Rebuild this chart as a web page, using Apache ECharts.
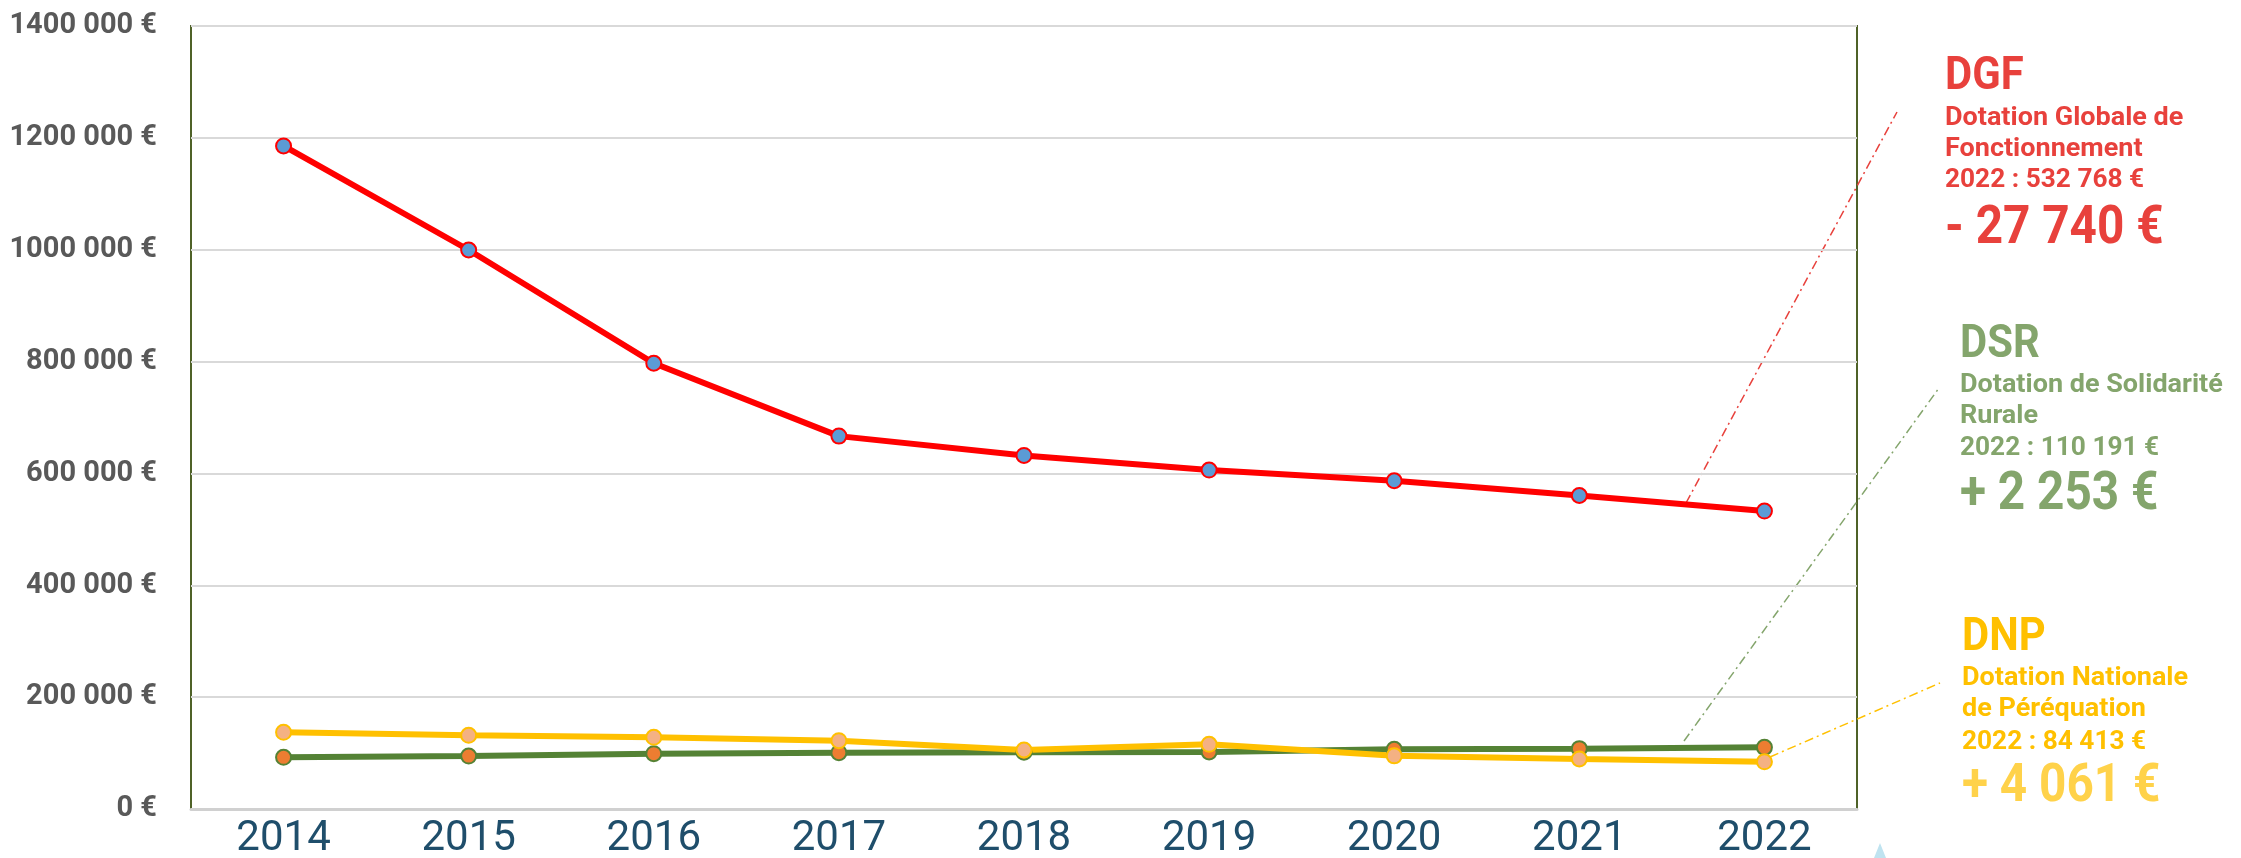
<!DOCTYPE html>
<html>
<head>
<meta charset="utf-8">
<title>Dotations</title>
<script src="https://cdn.jsdelivr.net/npm/echarts@6/dist/echarts.min.js"></script>
<style>
html,body{margin:0;padding:0;background:#fff;}
#main{width:2241px;height:858px;}
</style>
</head>
<body>
<div id="main"></div>
<script>
const years=['2014','2015','2016','2017','2018','2019','2020','2021','2022'];
const dgf=[1185600,999500,797000,666700,632200,606000,586900,560508,532768];
const dsr=[92400,94700,98900,100700,101500,102000,106700,107938,110191];
const dnp=[137100,131700,128200,122100,105500,115600,95000,89400,84413];
const yMin=0, yMax=1400000, yStep=200000;

// annotation blocks on the right
const dgfNote=['DGF','Dotation Globale de','Fonctionnement','2022 : 532 768 €','- 27 740 €'];
const dsrNote=['DSR','Dotation de Solidarité','Rurale','2022 : 110 191 €','+ 2 253 €'];
const dnpNote=['DNP','Dotation Nationale','de Péréquation','2022 : 84 413 €','+ 4 061 €'];

const font="Roboto,'Noto Sans',sans-serif";
const RED='#e8413c', GREEN='#84a56c', YELLOW='#ffc000';

const fmtEuro=(v)=>{
    if(v<1000){ return v+' €'; }
    const k=Math.floor(v/1000), r=v%1000;
    return k+' '+String(r).padStart(3,'0')+' €';
};

// one text block: title, 2 text lines, amount line, big delta
// (scaleX roughly imitates the wider DIN letters / narrower DIN digits)
const noteBlock=(lines, x, ys, color, deltaColor)=>{
    const sizes=[47,25,25,25,53];
    const sx=[0.89,1.08,1.08,1.05,0.9];
    return lines.map((t,i)=>({
        type:'text',
        silent:true,
        x:x, y:ys[i]+3, scaleX:sx[i],
        style:{
            text:t, x:0, y:0,
            fill:(i===4 && deltaColor) ? deltaColor : color,
            fontSize:sizes[i], fontWeight:'bold', fontFamily:font,
            verticalAlign:'middle', align:'left'
        }
    }));
};

const leader=(x1,y1,x2,y2,color)=>({
    type:'line', silent:true,
    shape:{x1,y1,x2,y2},
    style:{stroke:color, lineWidth:1.5, lineDash:[9,4,2,4]}
});

const lineSeries=(name,data,color,fill)=>({
    name, type:'line', data,
    symbol:'circle', symbolSize:15,
    lineStyle:{color, width:6},
    itemStyle:{color:fill, borderColor:color, borderWidth:2},
    emphasis:{disabled:true},
    animation:false
});

const chart=echarts.init(document.getElementById('main'));
chart.setOption({
    backgroundColor:'#fff',
    animation:false,
    grid:{left:191, right:384, top:26, bottom:49, outerBoundsMode:'none', containLabel:false,
          show:true, borderColor:'#4f6228', borderWidth:2, backgroundColor:'transparent'},
    xAxis:{
        type:'category', data:years, boundaryGap:true,
        axisLine:{show:true, lineStyle:{color:'#d0d0d0', width:3}},
        axisTick:{show:false},
        axisLabel:{color:'#1f4e6b', fontSize:42, fontFamily:font, margin:9}
    },
    yAxis:{
        type:'value', min:yMin, max:yMax, interval:yStep,
        axisLine:{show:false}, axisTick:{show:false},
        splitLine:{lineStyle:{color:'#d9d9d9', width:2}},
        axisLabel:{color:'#595959', fontSize:29, fontWeight:'bold', fontFamily:font, margin:34, formatter:fmtEuro}
    },
    series:[
        lineSeries('DGF',dgf,'#ff0000','#5b9bd5'),
        lineSeries('DSR',dsr,'#548235','#ed7d31'),
        lineSeries('DNP',dnp,YELLOW,'#f4b183')
    ],
    graphic:[
        leader(1686,503,1897,112,RED),
        leader(1684,741,1939,388,GREEN),
        leader(1770,757,1940,683,YELLOW),
        ...noteBlock(dgfNote,1945,[74,116,147,178,227],RED),
        ...noteBlock(dsrNote,1960,[342,383,414,446,493],GREEN),
        ...noteBlock(dnpNote,1962,[635,676,707,740,785],YELLOW,'#ffd24a'),
        {type:'polygon', silent:true, shape:{points:[[1880,843],[1874,858],[1886,858]]}, style:{fill:'#bfe3f0'}}
    ]
});
</script>
</body>
</html>
